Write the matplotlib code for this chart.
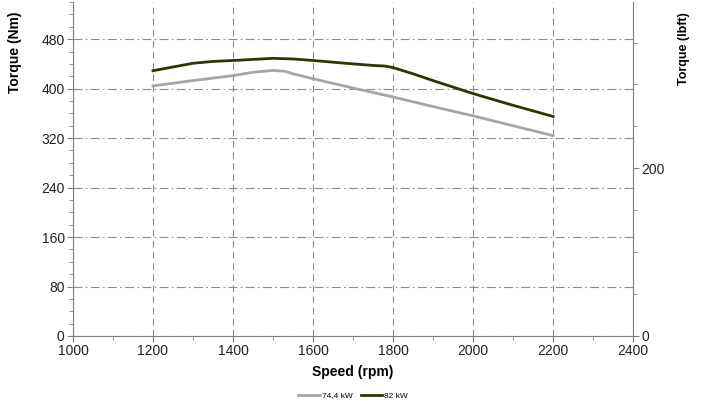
import numpy as np
import matplotlib
matplotlib.use("Agg")
import matplotlib.pyplot as plt
from matplotlib.ticker import MultipleLocator

plt.rcParams['font.family'] = ['Liberation Sans', 'DejaVu Sans']
plt.rcParams['font.size'] = 10

NM_PER_LBFT = 1.3558

# torque curves
speed_744 = [1200, 1300, 1400, 1450, 1500, 1530, 1550, 1600, 1700, 1800, 1900, 2000, 2100, 2200]
torque_744 = [404.5, 413, 421, 426.5, 429.5, 428, 424, 416, 401, 386.5, 371, 356, 340, 324]

speed_82 = [1200, 1300, 1350, 1400, 1500, 1550, 1600, 1700, 1750, 1780, 1800, 1850, 1900, 2000, 2100, 2200]
torque_82 = [429, 441, 444, 445.5, 449, 448, 445.5, 440, 437.5, 436.5, 434, 424, 413, 392, 373, 355]

labels = ['74.4 kW', '82 kW']
colors = ['#a6a6a6', '#333300']

fig = plt.figure(figsize=(7.05, 4.11), dpi=100)
ax = fig.add_axes([0.1035, 0.1825, 0.7945, 0.8125])

ax.plot(speed_744, torque_744, color=colors[0], lw=2.0, label=labels[0], zorder=3,
        solid_joinstyle='round')
ax.plot(speed_82, torque_82, color=colors[1], lw=2.0, label=labels[1], zorder=3,
        solid_joinstyle='round')

ax.set_xlim(1000, 2400)
ax.set_ylim(0, 540)
ax.xaxis.set_major_locator(MultipleLocator(200))
ax.xaxis.set_minor_locator(MultipleLocator(100))
ax.yaxis.set_major_locator(MultipleLocator(80))
ax.yaxis.set_minor_locator(MultipleLocator(20))

ax.grid(axis='x', which='major', color='#8c8c8c', ls=(0, (6, 4)), lw=0.8)
ax.grid(axis='y', which='major', color='#8c8c8c', ls=(0, (8, 3, 1.5, 3)), lw=0.8)

for side in ['top', 'right']:
    ax.spines[side].set_visible(False)
for side in ['left', 'bottom']:
    ax.spines[side].set_color('#808080')

ax.tick_params(which='both', direction='out', color='#808080', labelcolor='#222222')
ax.tick_params(which='major', length=4, pad=2)
ax.tick_params(which='minor', length=3)

ax.set_xlabel('Speed (rpm)', fontweight='bold')
ax.xaxis.set_label_coords(0.5, -0.087)
ax.set_ylabel('Torque (Nm)', fontweight='bold')
ax.yaxis.set_label_coords(-0.091, 0.85)

ax2 = ax.twinx()
ax2.set_ylim(0, 540 / NM_PER_LBFT)
ax2.yaxis.set_major_locator(MultipleLocator(200))
ax2.yaxis.set_minor_locator(MultipleLocator(50))
for side in ['top', 'left', 'bottom']:
    ax2.spines[side].set_visible(False)
ax2.spines['right'].set_color('#808080')
ax2.tick_params(which='both', direction='out', color='#808080', labelcolor='#222222')
ax2.tick_params(which='major', length=4, pad=2)
ax2.tick_params(which='minor', length=3)
ax2.set_ylabel('Torque (lbft)', fontweight='bold', fontsize=9, rotation=90)
ax2.yaxis.set_label_coords(1.080, 0.862)

ax.legend(loc='center', bbox_to_anchor=(0.5, -0.18), ncol=2, frameon=False,
          fontsize=6, handlelength=2.6, handletextpad=0.2, columnspacing=1.0)

fig.savefig('out.png', dpi=100)
